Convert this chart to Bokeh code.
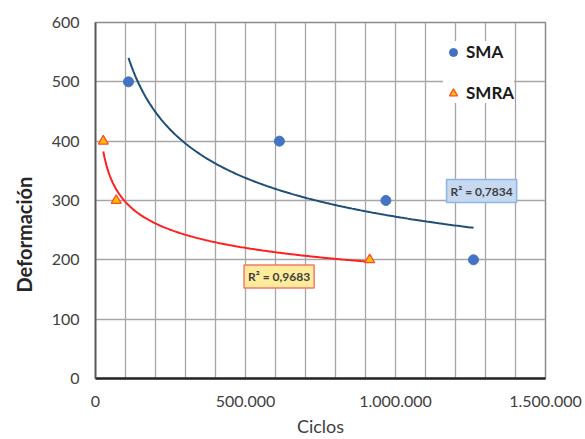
import numpy as np
from bokeh.plotting import figure
from bokeh.models import FixedTicker, Label, Legend, LegendItem, Range1d, Title
from bokeh.embed import file_html
from bokeh.resources import INLINE

# ---- data ----
sma_x = [110000, 613000, 968000, 1260000]
sma_y = [500, 400, 300, 200]
smra_x = [26000, 69000, 914000]
smra_y = [400, 300, 200]
sma_r2 = "R² = 0,7834"
smra_r2 = "R² = 0,9683"
x_ticks = [0, 500000, 1000000, 1500000]
x_tick_labels = ["0", "500.000", "1.000.000", "1.500.000"]
x_grid_ticks = [0, 100000, 200000, 300000, 400000, 500000, 600000, 700000,
                800000, 900000, 1000000, 1100000, 1200000, 1300000, 1400000, 1500000]
y_ticks = [0, 100, 200, 300, 400, 500, 600]
x_title = "Ciclos"
y_title = "Deformación"


def power_fit(xs, ys, n=200):
    lx, ly = np.log(np.array(xs, float)), np.log(np.array(ys, float))
    b, lna = np.polyfit(lx, ly, 1)
    xx = np.linspace(min(xs), max(xs), n)
    return xx, np.exp(lna) * xx ** b


FONT = "Lato"

p = figure(width=585, height=439, x_range=Range1d(0, 1500000), y_range=Range1d(0, 600),
           output_backend="svg", toolbar_location=None,
           min_border_left=95, min_border_right=40, min_border_top=22, min_border_bottom=60)
p.background_fill_color = "white"
p.border_fill_color = "white"
p.outline_line_color = "#8c8c8c"
p.outline_line_width = 1.5

p.xaxis.ticker = FixedTicker(ticks=x_ticks)
p.xaxis.major_label_overrides = {t: l for t, l in zip(x_ticks, x_tick_labels)}
p.yaxis.ticker = FixedTicker(ticks=y_ticks)
p.xgrid.ticker = FixedTicker(ticks=x_grid_ticks)
p.ygrid.ticker = FixedTicker(ticks=y_ticks)
for g in (p.xgrid, p.ygrid):
    g.grid_line_color = "#a6a6a6"
    g.grid_line_width = 1.3

for ax in (p.xaxis, p.yaxis):
    ax.major_tick_in = 0
    ax.major_tick_out = 0
    ax.minor_tick_in = 0
    ax.minor_tick_out = 0
    ax.major_label_text_font = FONT
    ax.major_label_text_font_size = "16px"
    ax.major_label_text_color = "#404040"
p.xaxis.axis_line_color = "#262626"
p.xaxis.axis_line_width = 2.5
p.yaxis.axis_line_color = "#595959"
p.yaxis.axis_line_width = 1.8
p.xaxis.major_label_standoff = 17
p.yaxis.major_label_standoff = 16

p.xaxis.axis_label = x_title
p.xaxis.axis_label_standoff = 5
p.xaxis.axis_label_text_font = FONT
p.xaxis.axis_label_text_font_style = "normal"
p.xaxis.axis_label_text_font_size = "18px"
p.xaxis.axis_label_text_color = "#404040"

p.add_layout(Title(text=y_title, align="left", offset=86, text_font=FONT,
                   text_font_style="bold", text_font_size="20px", text_color="#262626",
                   standoff=21, vertical_align="top"), "left")

# trendlines
tx, ty = power_fit(sma_x, sma_y)
p.line(tx, ty, line_color="#1F4E79", line_width=2)
rx, ry = power_fit(smra_x, smra_y)
p.line(rx, ry, line_color="#FF2020", line_width=2)

# points
r_sma = p.scatter(sma_x, sma_y, marker="circle", size=10, fill_color="#4472C4", line_color="#4472C4")
r_smra = p.scatter(smra_x, smra_y, marker="triangle", size=10, fill_color="#FFC000",
                   line_color="#FF4A2A", line_width=1.3)

legend = Legend(items=[LegendItem(label="SMA", renderers=[r_sma]),
                       LegendItem(label="SMRA", renderers=[r_smra])],
                location=(348, 275), margin=0, padding=10, spacing=20,
                glyph_width=20, glyph_height=20, label_height=20, label_standoff=3,
                border_line_color=None, background_fill_color="white", background_fill_alpha=1,
                label_text_font=FONT, label_text_font_style="bold",
                label_text_font_size="17px", label_text_color="#1a1a1a")
p.add_layout(legend)

# R² labels
p.add_layout(Label(x=1287000, y=316, text=sma_r2, text_align="center", text_baseline="middle",
                   text_font=FONT, text_font_style="bold", text_font_size="12px", text_color="#404040",
                   background_fill_color="#C6D9F1", border_line_color="#8EB4E3", border_line_width=1.5,
                   padding=4))
p.add_layout(Label(x=612000, y=172, text=smra_r2, text_align="center", text_baseline="middle",
                   text_font=FONT, text_font_style="bold", text_font_size="12px", text_color="#404040",
                   background_fill_color="#FFEB9C", border_line_color="#F47A6A", border_line_width=1.5,
                   padding=4))

open("out.html", "w").write(file_html(p, INLINE))
